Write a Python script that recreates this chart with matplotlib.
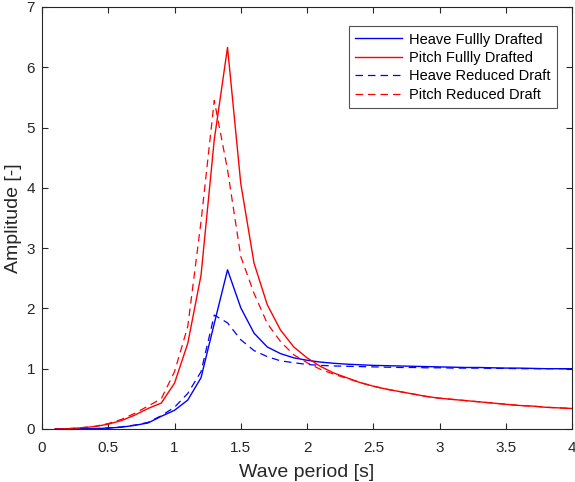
import matplotlib
matplotlib.use('Agg')
import matplotlib.pyplot as plt
import numpy as np

# wave periods 0.1 .. 4.0 s
period = np.round(np.arange(1, 41) * 0.1, 1)

heave_full = [0.0, 0.0, 0.002, 0.005, 0.015, 0.03, 0.06, 0.10, 0.21, 0.31,
              0.48, 0.85, 1.75, 2.64, 2.01, 1.59, 1.36, 1.25, 1.18, 1.14,
              1.11, 1.09, 1.075, 1.065, 1.055, 1.05, 1.045, 1.04, 1.035, 1.03,
              1.025, 1.02, 1.02, 1.015, 1.01, 1.01, 1.005, 1.0, 1.0, 1.0]
pitch_full = [0.0, 0.005, 0.02, 0.04, 0.08, 0.14, 0.23, 0.34, 0.43, 0.76,
              1.42, 2.55, 4.8, 6.33, 4.07, 2.75, 2.06, 1.64, 1.36, 1.18,
              1.04, 0.93, 0.85, 0.77, 0.71, 0.66, 0.62, 0.58, 0.54, 0.51,
              0.49, 0.47, 0.45, 0.43, 0.41, 0.39, 0.38, 0.36, 0.35, 0.34]
heave_reduced = [0.0, 0.0, 0.002, 0.006, 0.017, 0.035, 0.065, 0.11, 0.22, 0.36,
                 0.59, 0.95, 1.89, 1.76, 1.48, 1.30, 1.20, 1.13, 1.10, 1.07,
                 1.055, 1.045, 1.04, 1.035, 1.03, 1.025, 1.02, 1.02, 1.015, 1.015,
                 1.01, 1.01, 1.01, 1.005, 1.005, 1.0, 1.0, 1.0, 1.0, 1.0]
pitch_reduced = [0.0, 0.006, 0.022, 0.045, 0.09, 0.16, 0.26, 0.38, 0.50, 0.95,
                 1.70, 3.44, 5.45, 4.30, 2.86, 2.25, 1.75, 1.45, 1.23, 1.10,
                 0.99, 0.91, 0.84, 0.77, 0.71, 0.66, 0.62, 0.58, 0.54, 0.51,
                 0.49, 0.47, 0.45, 0.43, 0.41, 0.39, 0.38, 0.36, 0.35, 0.34]

series_labels = ["Heave Fullly Drafted", "Pitch Fullly Drafted",
                 "Heave Reduced Draft", "Pitch Reduced Draft"]

plt.rcParams['font.family'] = ['Liberation Sans', 'DejaVu Sans']
txt = '#262626'

fig = plt.figure(figsize=(5.75, 4.82), dpi=100)
ax = fig.add_axes([0.073, 0.110, 0.922, 0.8755])

ax.plot(period, heave_full, color='#0000ff', lw=1.0, label=series_labels[0])
ax.plot(period, pitch_full, color='#ff0000', lw=1.0, label=series_labels[1])
ax.plot(period, heave_reduced, color='#0000ff', lw=0.9, ls=(0, (6, 4)), label=series_labels[2])
ax.plot(period, pitch_reduced, color='#ff0000', lw=0.9, ls=(0, (6, 4)), label=series_labels[3])

ax.set_xlim(0, 4)
ax.set_ylim(0, 7)
ax.set_xticks(np.arange(0, 4.01, 0.5))
ax.set_xticklabels(['0', '0.5', '1', '1.5', '2', '2.5', '3', '3.5', '4'])
ax.set_yticks(range(0, 8))
ax.tick_params(direction='in', top=True, right=True, length=4, width=0.8,
               labelsize=11, colors=txt, labelcolor=txt)
ax.tick_params(axis='x', pad=9)
ax.tick_params(axis='y', pad=5)
for s in ax.spines.values():
    s.set_color(txt)
    s.set_linewidth(0.8)

ax.set_xlabel("Wave period [s]", fontsize=14, color=txt, labelpad=6)
ax.set_ylabel("Amplitude [-]", fontsize=14, color=txt, labelpad=3)

leg = ax.legend(loc='upper right', bbox_to_anchor=(0.972, 0.955), fontsize=10.5,
                frameon=True, fancybox=False, edgecolor='#262626',
                handlelength=3.2, handletextpad=0.5, borderpad=0.45,
                labelspacing=0.3, borderaxespad=0)
leg.get_frame().set_linewidth(0.8)
for t in leg.get_texts():
    t.set_color('black')

fig.savefig('out.png', dpi=100)
